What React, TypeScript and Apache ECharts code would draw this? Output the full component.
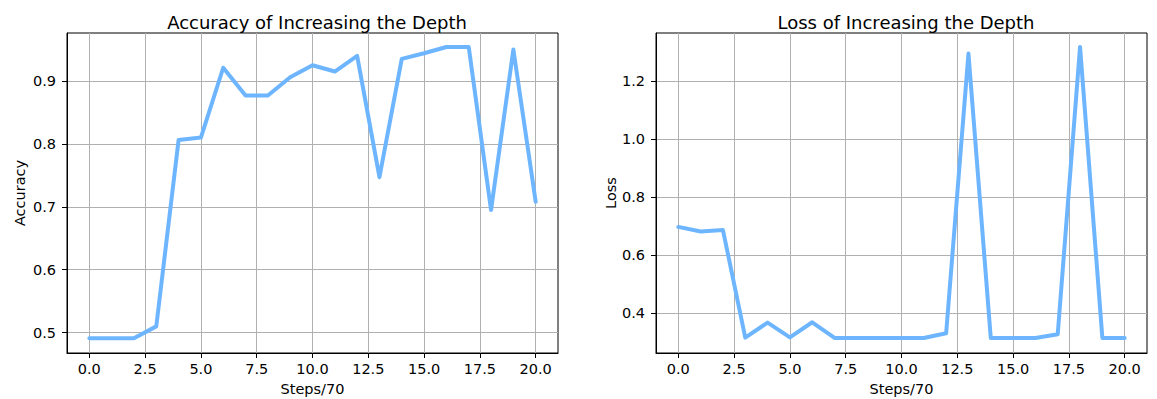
import React, { useEffect, useRef } from "react";
import * as echarts from "echarts";

const steps = [0, 1, 2, 3, 4, 5, 6, 7, 8, 9, 10, 11, 12, 13, 14, 15, 16, 17, 18, 19, 20];
const accuracy = [0.491, 0.491, 0.491, 0.51, 0.806, 0.81, 0.921, 0.877, 0.877, 0.906, 0.925, 0.915, 0.94, 0.747, 0.935, 0.944, 0.954, 0.954, 0.695, 0.95, 0.708];
const loss = [0.697, 0.681, 0.686, 0.315, 0.367, 0.316, 0.368, 0.314, 0.314, 0.314, 0.314, 0.314, 0.33, 1.295, 0.314, 0.314, 0.314, 0.327, 1.318, 0.314, 0.314];
const xTicks = [0, 2.5, 5, 7.5, 10, 12.5, 15, 17.5, 20];
const accTicks = [0.5, 0.6, 0.7, 0.8, 0.9];
const lossTicks = [0.4, 0.6, 0.8, 1.0, 1.2];
const titles = ["Accuracy of Increasing the Depth", "Loss of Increasing the Depth"];
const yNames = ["Accuracy", "Loss"];
const xName = "Steps/70";

const FONT = "DejaVu Sans";
const LINE = "#6db6ff";
const FS = 14.5;

export default function App() {
  const ref = useRef<HTMLDivElement>(null);
  useEffect(() => {
    const chart = echarts.init(ref.current!, null, { renderer: "svg" });
    const xAxisBase = (gridIndex: number) => ({
      type: "value",
      gridIndex,
      min: -1,
      max: 21,
      name: xName,
      nameLocation: "middle",
      nameGap: 28,
      nameTextStyle: { fontFamily: FONT, fontSize: FS, color: "#000" },
      axisLine: { show: true, onZero: false, lineStyle: { color: "#000", width: 1 } },
      axisTick: { show: true, length: 5, lineStyle: { color: "#000", width: 1 }, customValues: xTicks },
      axisLabel: {
        fontFamily: FONT, fontSize: FS, color: "#000", margin: 8,
        customValues: xTicks,
        formatter: (v: number) => v.toFixed(1),
      },
      splitLine: { show: true, lineStyle: { color: "#b0b0b0", width: 1 } },
    });
    const yAxisBase = (gridIndex: number, min: number, max: number, ticks: number[], name: string, gap: number) => ({
      type: "value",
      gridIndex,
      min,
      max,
      name,
      nameLocation: "middle",
      nameGap: gap,
      nameRotate: 90,
      nameTextStyle: { fontFamily: FONT, fontSize: FS, color: "#000" },
      axisLine: { show: true, onZero: false, lineStyle: { color: "#000", width: 1 } },
      axisTick: { show: true, length: 5, lineStyle: { color: "#000", width: 1 }, customValues: ticks },
      axisLabel: {
        fontFamily: FONT, fontSize: FS, color: "#000", margin: 11,
        customValues: ticks,
        formatter: (v: number) => v.toFixed(1),
      },
      splitLine: { show: true, lineStyle: { color: "#b0b0b0", width: 1 } },
    });
    const titleStyle = { fontFamily: FONT, fontSize: 18, fontWeight: "normal", color: "#000" };
    chart.setOption({
      animation: false,
      backgroundColor: "#fff",
      title: [
        { text: titles[0], left: 312, top: 8, textAlign: "center", textStyle: titleStyle },
        { text: titles[1], left: 901, top: 8, textAlign: "center", textStyle: titleStyle },
      ],
      grid: [
        { left: 67, top: 33, width: 491, height: 320, show: true, borderColor: "#000", borderWidth: 1, backgroundColor: "transparent", containLabel: false, outerBoundsMode: "none" },
        { left: 656, top: 33, width: 491, height: 320, show: true, borderColor: "#000", borderWidth: 1, backgroundColor: "transparent", containLabel: false, outerBoundsMode: "none" },
      ],
      xAxis: [xAxisBase(0), xAxisBase(1)],
      yAxis: [
        yAxisBase(0, 0.4677, 0.9762, accTicks, yNames[0], 40),
        yAxisBase(1, 0.262, 1.366, lossTicks, yNames[1], 38),
      ],
      series: [
        {
          type: "line", xAxisIndex: 0, yAxisIndex: 0, showSymbol: false, symbol: "none",
          data: steps.map((s, i) => [s, accuracy[i]]),
          lineStyle: { color: LINE, width: 4, join: "round", cap: "round" },
        },
        {
          type: "line", xAxisIndex: 1, yAxisIndex: 1, showSymbol: false, symbol: "none",
          data: steps.map((s, i) => [s, loss[i]]),
          lineStyle: { color: LINE, width: 4, join: "round", cap: "round" },
        },
      ],
    });
    return () => chart.dispose();
  }, []);
  return <div ref={ref} style={{ position: "absolute", left: 0, top: 0, width: 1157, height: 399 }} />;
}
